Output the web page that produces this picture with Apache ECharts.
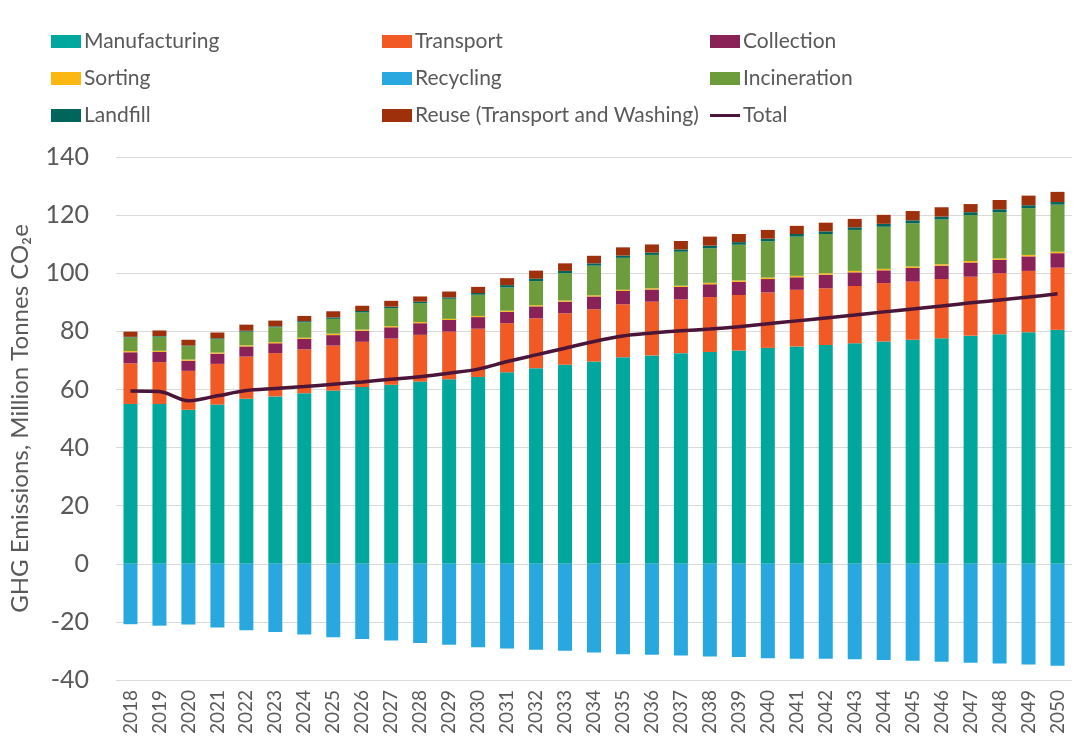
<!DOCTYPE html>
<html>
<head>
<meta charset="utf-8">
<title>GHG Emissions</title>
<script src="https://cdn.jsdelivr.net/npm/echarts@6/dist/echarts.min.js"></script>
<style>
  html, body { margin: 0; padding: 0; background: #fff; }
  #chart { width: 1078px; height: 740px; }
</style>
</head>
<body>
<div id="chart"></div>
<script>
// years on the x axis
var years = ['2018', '2019', '2020', '2021', '2022', '2023', '2024', '2025', '2026', '2027', '2028',
  '2029', '2030', '2031', '2032', '2033', '2034', '2035', '2036', '2037', '2038', '2039', '2040',
  '2041', '2042', '2043', '2044', '2045', '2046', '2047', '2048', '2049', '2050']

// million tonnes CO2e
var manufacturing = [55.0, 55.0, 53.0, 54.8, 56.8, 57.6, 58.7, 59.6, 60.8, 61.6, 62.7,
  63.5, 64.3, 65.9, 67.3, 68.5, 69.6, 71.1, 71.7, 72.5, 72.9, 73.4, 74.3,
  74.8, 75.3, 75.9, 76.5, 77.1, 77.6, 78.5, 79.0, 79.7, 80.5]
var transport = [14.0, 14.4, 13.4, 14.0, 14.5, 14.9, 15.1, 15.5, 15.6, 15.9, 16.1,
  16.4, 16.6, 16.9, 17.2, 17.7, 18.0, 18.2, 18.5, 18.5, 18.9, 19.1, 19.1,
  19.5, 19.5, 19.7, 20.1, 20.0, 20.4, 20.3, 21.0, 21.1, 21.4]
var collection = [3.8, 3.5, 3.5, 3.5, 3.5, 3.4, 3.6, 3.6, 3.8, 3.9, 4.0,
  4.0, 4.0, 3.9, 4.1, 4.0, 4.4, 4.6, 4.2, 4.3, 4.4, 4.5, 4.6,
  4.3, 4.7, 4.7, 4.4, 4.7, 4.6, 4.9, 4.6, 5.0, 5.0]
var sorting = [0.4, 0.4, 0.4, 0.4, 0.4, 0.4, 0.4, 0.5, 0.4, 0.4, 0.4,
  0.4, 0.4, 0.4, 0.4, 0.4, 0.4, 0.4, 0.4, 0.4, 0.5, 0.5, 0.5,
  0.5, 0.5, 0.5, 0.5, 0.5, 0.5, 0.5, 0.5, 0.5, 0.5]
var recycling = [-20.8, -21.3, -20.9, -21.9, -22.9, -23.5, -24.3, -25.3, -25.9, -26.4, -27.3,
  -27.9, -28.7, -29.2, -29.6, -29.9, -30.5, -31.1, -31.3, -31.6, -31.9, -32.1, -32.5,
  -32.7, -32.7, -32.9, -33.1, -33.4, -33.7, -34.1, -34.3, -34.7, -35.1]
var incineration = [4.7, 4.9, 4.6, 4.6, 4.7, 5.1, 5.3, 5.1, 5.9, 6.2, 6.5,
  6.9, 7.3, 8.0, 8.3, 9.4, 10.2, 11.0, 11.5, 11.7, 11.9, 12.3, 12.5,
  13.5, 13.5, 14.1, 14.5, 14.9, 15.4, 15.8, 15.9, 16.1, 16.2]
var landfill = [0.2, 0.2, 0.2, 0.3, 0.3, 0.3, 0.4, 0.5, 0.5, 0.5, 0.5,
  0.5, 0.6, 0.8, 0.8, 0.8, 0.8, 0.8, 0.8, 0.8, 0.9, 0.9, 0.9,
  0.9, 0.9, 0.9, 1.0, 1.0, 1.0, 1.0, 1.0, 1.0, 0.9]
var reuse = [1.8, 1.9, 2.0, 2.0, 2.1, 2.0, 1.8, 2.1, 1.8, 2.0, 1.8,
  2.0, 2.1, 2.4, 2.8, 2.6, 2.6, 2.8, 2.8, 2.9, 3.1, 2.8, 3.0,
  2.8, 3.0, 2.9, 3.1, 3.2, 3.2, 2.8, 3.2, 3.3, 3.5]
var total = [59.5, 59.3, 56.1, 57.8, 59.6, 60.3, 61.0, 61.8, 62.6, 63.5, 64.4,
  65.6, 67.0, 69.6, 71.9, 74.2, 76.5, 78.4, 79.4, 80.2, 80.8, 81.6, 82.6,
  83.6, 84.6, 85.6, 86.7, 87.7, 88.7, 89.8, 90.8, 91.8, 92.9]

var yTicks = { min: -40, max: 140, step: 20 }

var font = 'Lato, "Open Sans", sans-serif'
var textGrey = '#595959'
var lineColor = '#4a1538'

function barSeries (name, data, color) {
  return {
    name: name,
    type: 'bar',
    stack: 'ghg',
    barWidth: 14,
    itemStyle: { color: color },
    data: data
  }
}

function legendCol (left, names) {
  return {
    orient: 'vertical',
    left: left,
    top: 26,
    icon: 'rect',
    itemWidth: 30,
    itemHeight: 13,
    itemGap: 16,
    textStyle: { fontFamily: font, fontSize: 21, color: textGrey, padding: [0, 0, 0, -2] },
    data: names
  }
}

var chart = echarts.init(document.getElementById('chart'))

var option = {
  backgroundColor: '#fff',
  animation: false,
  legend: [
    legendCol(46, ['Manufacturing', 'Sorting', 'Landfill']),
    legendCol(377, ['Transport', 'Recycling', 'Reuse (Transport and Washing)']),
    legendCol(705, ['Collection', 'Incineration',
      { name: 'Total', icon: 'path://M0,0 L30,0 L30,3 L0,3 Z', itemStyle: { color: lineColor } }])
  ],
  grid: {
    left: 115,
    right: 6,
    top: 157,
    bottom: 60
  },
  xAxis: {
    type: 'category',
    data: years,
    axisLine: { show: false },
    axisTick: { show: false },
    axisLabel: {
      rotate: 90,
      margin: 10,
      fontFamily: font,
      fontSize: 19,
      color: textGrey,
      interval: 0
    }
  },
  yAxis: {
    type: 'value',
    min: yTicks.min,
    max: yTicks.max,
    interval: yTicks.step,
    name: 'GHG Emissions, Million Tonnes CO₂e',
    nameLocation: 'middle',
    nameRotate: 90,
    nameGap: 84,
    nameTextStyle: { fontFamily: font, fontSize: 24, color: textGrey },
    axisLine: { show: false },
    axisTick: { show: false },
    axisLabel: {
      margin: 27,
      fontFamily: font,
      fontSize: 25,
      color: textGrey
    },
    splitLine: { lineStyle: { color: '#d9d9d9', width: 1 } }
  },
  series: [
    barSeries('Manufacturing', manufacturing, '#00a79d'),
    barSeries('Transport', transport, '#f15a24'),
    barSeries('Collection', collection, '#8b2257'),
    barSeries('Sorting', sorting, '#fbb813'),
    barSeries('Recycling', recycling, '#29a8e0'),
    barSeries('Incineration', incineration, '#6c9c3b'),
    barSeries('Landfill', landfill, '#00665c'),
    barSeries('Reuse (Transport and Washing)', reuse, '#9e300c'),
    {
      name: 'Total',
      type: 'line',
      smooth: 0.3,
      symbol: 'none',
      z: 5,
      lineStyle: { color: lineColor, width: 3.5 },
      itemStyle: { color: lineColor },
      data: total
    }
  ]
}

chart.setOption(option)
</script>
</body>
</html>
